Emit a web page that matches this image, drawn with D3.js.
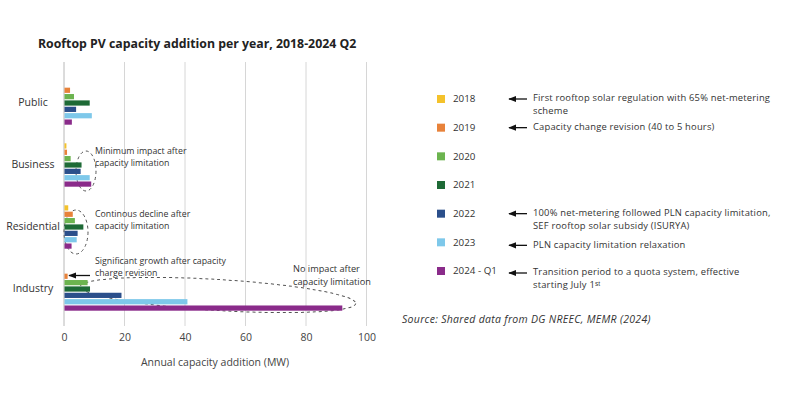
<!DOCTYPE html>
<html><head><meta charset="utf-8">
<script src="https://cdn.jsdelivr.net/npm/d3@7"></script>
<style>
body{margin:0;background:#fff;}
svg{display:block;font-family:"Open Sans",sans-serif;}
</style></head>
<body><svg id="c" width="800" height="399"></svg>
<script>
const categories = ["Public","Business","Residential","Industry"];
const years = ["2018","2019","2020","2021","2022","2023","2024 - Q1"];
const v2018 = [0, 0.8, 1.4, 0];
const v2019 = [2.0, 1.0, 2.9, 1.2];
const v2020 = [3.3, 2.2, 3.6, 7.8];
const v2021 = [8.5, 5.8, 6.4, 8.6];
const v2022 = [4.0, 5.5, 4.5, 19.0];
const v2023 = [9.2, 8.5, 4.2, 40.8];
const v2024 = [2.6, 9.0, 2.5, 92.0];
const seriesValues = [v2018, v2019, v2020, v2021, v2022, v2023, v2024];
const colors = ["#f4c22b","#e8823a","#6cb44f","#1e6a36","#2b4f8b","#7ec8ea","#8a2b8a"];
const xTicks = [0,20,40,60,80,100];
const legendNotes = [
  ["First rooftop solar regulation with 65% net-metering","scheme"],
  ["Capacity change revision (40 to 5 hours)"],
  null, null,
  ["100% net-metering followed PLN capacity limitation,","SEF rooftop solar subsidy (ISURYA)"],
  ["PLN capacity limitation relaxation"],
  ["Transition period to a quota system, effective","starting July 1ˢᵗ"]
];

const svg = d3.select("#c");
const x = d3.scaleLinear().domain([0,100]).range([64,366.5]);
const y0 = d3.scaleBand().domain(categories).range([72,320]);
const y1 = d3.scaleBand().domain(years).range([y0.bandwidth()*0.15, y0.bandwidth()*0.85]).paddingInner(0.18);

svg.append("defs").append("marker").attr("id","arr").attr("viewBox","0 0 10 10")
  .attr("refX",9).attr("refY",5).attr("markerWidth",7).attr("markerHeight",6)
  .attr("orient","auto").append("path").attr("d","M0,1 L10,5 L0,9 Z").attr("fill","#111");

// title
svg.append("text").attr("x",38).attr("y",48).attr("font-size",12.3).attr("font-weight",700)
  .attr("fill","#222").text("Rooftop PV capacity addition per year, 2018-2024 Q2");

// grid
svg.append("g").selectAll("line").data(xTicks).join("line")
  .attr("x1",d=>x(d)).attr("x2",d=>x(d)).attr("y1",62).attr("y2",326)
  .attr("stroke",d=>d===0?"#b8b8b8":"#d6d6d6").attr("stroke-width",1);

// x axis labels
const xa = svg.append("g").attr("transform","translate(0,326)")
  .call(d3.axisBottom(x).tickValues(xTicks).tickSize(0).tickPadding(8));
xa.select(".domain").remove();
xa.selectAll("text").attr("font-size",10.5).attr("fill","#444").attr("font-family","Open Sans");
svg.append("text").attr("x",215).attr("y",366).attr("text-anchor","middle").attr("font-size",10.5)
  .attr("fill","#444").text("Annual capacity addition (MW)");

// category labels
svg.append("g").selectAll("text").data(categories).join("text")
  .attr("x",33).attr("y",d=>y0(d)+y0.bandwidth()/2-1).attr("dy","0.35em").attr("text-anchor","middle")
  .attr("font-size",10.5).attr("fill","#333").text(d=>d);

// dashed ellipses (behind bars)
const ell = svg.append("g").attr("fill","none").attr("stroke","#555").attr("stroke-width",1)
  .attr("stroke-dasharray","3,3");
ell.append("ellipse").attr("cx",86).attr("cy",171).attr("rx",10).attr("ry",20);
ell.append("ellipse").attr("cx",76).attr("cy",232).attr("rx",12).attr("ry",22);
ell.append("ellipse").attr("cx",0).attr("cy",0).attr("rx",138).attr("ry",15.5)
  .attr("transform","translate(218,295) rotate(3.5)");

// bars
const groups = svg.append("g").selectAll("g").data(categories).join("g")
  .attr("transform",d=>`translate(0,${y0(d)})`);
groups.selectAll("rect").data((d,ci)=>years.map((yr,yi)=>({yr,yi,v:seriesValues[yi][ci]})))
  .join("rect").attr("x",x(0)+0.5).attr("y",d=>y1(d.yr)).attr("height",y1.bandwidth())
  .attr("width",d=>Math.max(0,x(d.v)-x(0)-0.5)).attr("fill",d=>colors[d.yi]);

// chart annotations (one text per line)
function multiText(xp, yp, lines, size, gap){
  lines.forEach((l,i)=>svg.append("text").attr("x",xp).attr("y",yp+i*(gap||12.2))
    .attr("font-size",size||8.8).attr("fill","#333").text(l));
}
multiText(95,154,["Minimum impact after","capacity limitation"]);
multiText(95,217,["Continous decline after","capacity limitation"]);
multiText(95,264,["Significant growth after capacity","charge revision"]);
multiText(293,272,["No impact after","capacity limitation"],9.2,12.8);
svg.append("line").attr("x1",90).attr("x2",69).attr("y1",275.5).attr("y2",275.5)
  .attr("stroke","#111").attr("stroke-width",1.3).attr("marker-end","url(#arr)");

// legend
const legY = d3.scalePoint().domain(years).range([99,271]);
const lg = svg.append("g");
lg.selectAll("rect").data(years).join("rect").attr("x",437).attr("y",d=>legY(d)-4)
  .attr("width",8).attr("height",8).attr("fill",(d,i)=>colors[i]);
lg.selectAll("text").data(years).join("text").attr("x",453).attr("y",d=>legY(d)).attr("dy","0.35em")
  .attr("font-size",9.8).attr("fill","#333").text(d=>d);

// legend notes
legendNotes.forEach((n,i)=>{
  if(!n) return;
  const yy = legY(years[i]) + (i===5?3:(i===6?2:0));
  svg.append("line").attr("x1",527).attr("x2",509).attr("y1",yy).attr("y2",yy)
    .attr("stroke","#111").attr("stroke-width",1.3).attr("marker-end","url(#arr)");
  n.forEach((l,j)=>svg.append("text").attr("x",533).attr("y",yy-1+j*13).attr("dy","0.35em")
    .attr("font-size",9.4).attr("letter-spacing",0.2).attr("fill","#333").text(l));
});

svg.append("text").attr("x",402).attr("y",323).attr("font-size",10.5).attr("font-style","italic")
  .attr("fill","#333").attr("letter-spacing",0.3).text("Source: Shared data from DG NREEC, MEMR (2024)");
</script></body></html>
